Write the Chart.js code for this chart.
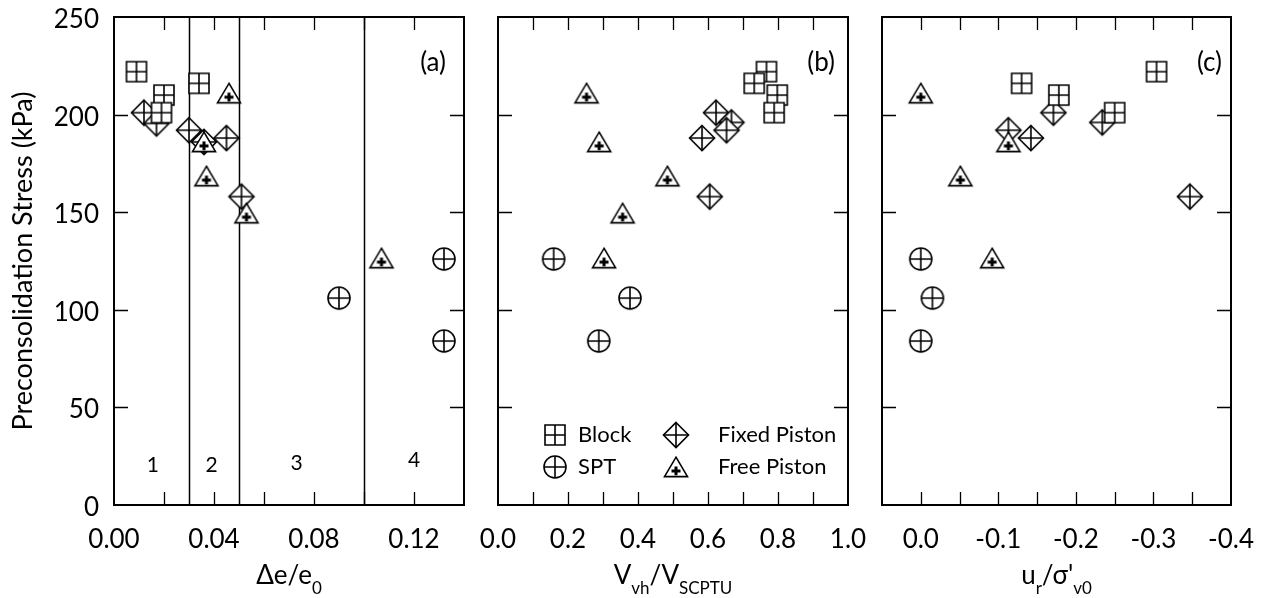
<!DOCTYPE html>
<html>
<head>
<meta charset="utf-8">
<script src="https://cdn.jsdelivr.net/npm/chart.js@4.4.0/dist/chart.umd.min.js"></script>
<style>
body { margin: 0; background: #fff; }
#wrap { position: relative; width: 1266px; height: 598px; }
#wrap canvas { position: absolute; left: 0; top: 0; }
</style>
</head>
<body>
<div id="wrap">
<canvas id="chartA" width="1266" height="598"></canvas>
<canvas id="chartB" width="1266" height="598"></canvas>
<canvas id="chartC" width="1266" height="598"></canvas>
</div>
<script>
var FONT = 'Lato, "Noto Sans", sans-serif';

// preconsolidation stress (kPa) and the three x quantities, per sampler
var blockStress = [222, 216, 210, 201];
var blockDe = [0.009, 0.034, 0.020, 0.019];
var blockVvh = [0.767, 0.732, 0.798, 0.789];
var blockUr = [-0.304, -0.130, -0.178, -0.250];

var sptStress = [126, 106, 84];
var sptDe = [0.132, 0.090, 0.132];
var sptVvh = [0.159, 0.377, 0.288];
var sptUr = [0.0, -0.015, 0.0];

var fixedStress = [201, 195.5, 192, 186, 188, 158];
var fixedDe = [0.012, 0.017, 0.030, 0.036, 0.045, 0.051];
var fixedStressBC = [201, 196, 192, 188, 158];
var fixedVvh = [0.623, 0.667, 0.653, 0.583, 0.605];
var fixedUr = [-0.171, -0.234, -0.113, -0.142, -0.347];

var freeStress = [211, 186, 168.5, 149.5, 126.5];
var freeDe = [0.046, 0.036, 0.037, 0.053, 0.107];
var freeVvh = [0.253, 0.289, 0.484, 0.356, 0.303];
var freeStressC = [211, 186, 168.5, 126.5];
var freeUr = [0.0, -0.113, -0.051, -0.092];

// disturbance zones on the de/e0 axis
var zoneBounds = [0.03, 0.05, 0.10];
var zoneNames = ['1', '2', '3', '4'];

// tick labels and tick marks
var stressTicks = [0, 50, 100, 150, 200, 250];
var stressMarks = [50, 100, 150, 200];
var deTicks = [0, 0.04, 0.08, 0.12];
var deMarks = [0.02, 0.04, 0.06, 0.08, 0.10, 0.12];
var vvhTicks = [0, 0.2, 0.4, 0.6, 0.8, 1.0];
var vvhMarks = [0.1, 0.2, 0.3, 0.4, 0.5, 0.6, 0.7, 0.8, 0.9];
var urTicks = [0, -0.1, -0.2, -0.3, -0.4];
var urMarks = [0, -0.05, -0.1, -0.15, -0.2, -0.25, -0.3, -0.35];

var seriesNames = ['Block', 'SPT', 'Fixed Piston', 'Free Piston'];

function pts(xs, ys) {
  return xs.map(function(x, i) { return {x: x, y: ys[i]}; });
}

// marker glyphs: white filled shape with a cross inside
function marker(kind) {
  var c = document.createElement('canvas');
  c.width = 30; c.height = 30;
  var g = c.getContext('2d');
  g.translate(15, 15);
  g.lineWidth = 1.6;
  g.strokeStyle = '#000';
  g.fillStyle = '#fff';
  g.beginPath();
  if (kind == 'block') {
    g.rect(-10, -10, 20, 20);
    g.fill(); g.stroke();
    g.beginPath();
    g.moveTo(0, -10); g.lineTo(0, 10);
    g.moveTo(-10, 0); g.lineTo(10, 0);
    g.stroke();
  } else if (kind == 'spt') {
    g.arc(0, 0, 11, 0, Math.PI * 2);
    g.fill(); g.stroke();
    g.beginPath();
    g.moveTo(0, -11); g.lineTo(0, 11);
    g.moveTo(-11, 0); g.lineTo(11, 0);
    g.stroke();
  } else if (kind == 'fixed') {
    g.moveTo(0, -12.5); g.lineTo(12.5, 0); g.lineTo(0, 12.5); g.lineTo(-12.5, 0);
    g.closePath();
    g.fill(); g.stroke();
    g.beginPath();
    g.moveTo(0, -12.5); g.lineTo(0, 12.5);
    g.moveTo(-12.5, 0); g.lineTo(12.5, 0);
    g.stroke();
  } else {
    g.moveTo(0, -9.8); g.lineTo(11.5, 9.6); g.lineTo(-11.5, 9.6);
    g.closePath();
    g.fill(); g.stroke();
    g.beginPath();
    g.lineWidth = 3;
    g.moveTo(0, -0.5); g.lineTo(0, 8.3);
    g.moveTo(-4.5, 3.9); g.lineTo(4.5, 3.9);
    g.stroke();
  }
  return c;
}
var MARKS = [marker('block'), marker('spt'), marker('fixed'), marker('free')];
var DRAW_ORDER = [1, 3, 2, 0];

function dataset(i, data) {
  return {
    label: seriesNames[i],
    data: data,
    pointStyle: MARKS[i],
    pointRadius: 12,
    order: DRAW_ORDER[i]
  };
}

function drawTitle(ctx, parts, cx, y) {
  var big = '26px ' + FONT, small = '17px ' + FONT;
  var w = 0;
  parts.forEach(function(p) { ctx.font = p[1] ? small : big; w += ctx.measureText(p[0]).width; });
  var x = cx - w / 2;
  ctx.textAlign = 'left';
  ctx.textBaseline = 'alphabetic';
  parts.forEach(function(p) {
    ctx.font = p[1] ? small : big;
    ctx.fillText(p[0], x, p[1] ? y + 10 : y);
    x += ctx.measureText(p[0]).width;
  });
}

var framePlugin = {
  id: 'frame',
  beforeDatasetsDraw: function(chart, args, opts) {
    var a = chart.chartArea, ctx = chart.ctx, xs = chart.scales.x;
    if (!opts.zones) return;
    ctx.save();
    ctx.strokeStyle = '#000';
    ctx.lineWidth = 1.5;
    zoneBounds.forEach(function(v) {
      var px = Math.round(xs.getPixelForValue(v)) + 0.5;
      ctx.beginPath(); ctx.moveTo(px, a.top); ctx.lineTo(px, a.bottom); ctx.stroke();
    });
    ctx.font = '21px ' + FONT;
    ctx.fillStyle = '#000';
    ctx.textAlign = 'center';
    ctx.textBaseline = 'middle';
    var zx = [0.0155, 0.039, 0.073, 0.120], zy = [465, 465, 463, 460];
    zoneNames.forEach(function(n, i) { ctx.fillText(n, xs.getPixelForValue(zx[i]), zy[i]); });
    ctx.restore();
  },
  afterDraw: function(chart, args, opts) {
    var a = chart.chartArea, ctx = chart.ctx, xs = chart.scales.x, ys = chart.scales.y;
    ctx.save();
    ctx.strokeStyle = '#000';
    ctx.fillStyle = '#000';
    ctx.lineWidth = 1.3;
    ctx.beginPath();
    opts.xMarks.forEach(function(v) {
      var px = Math.round(xs.getPixelForValue(v)) + 0.5;
      ctx.moveTo(px, a.bottom); ctx.lineTo(px, a.bottom - 13);
      ctx.moveTo(px, a.top); ctx.lineTo(px, a.top + 13);
    });
    stressMarks.forEach(function(v) {
      var py = Math.round(ys.getPixelForValue(v)) + 0.5;
      ctx.moveTo(a.left, py); ctx.lineTo(a.left + 14, py);
      ctx.moveTo(a.right, py); ctx.lineTo(a.right - 14, py);
    });
    ctx.stroke();
    ctx.lineWidth = 2;
    ctx.strokeRect(a.left, a.top, a.right - a.left, a.bottom - a.top);

    // x tick labels
    ctx.font = '26px ' + FONT;
    ctx.textAlign = 'center';
    ctx.textBaseline = 'alphabetic';
    opts.xTicks.forEach(function(v) {
      ctx.fillText(v.toFixed(opts.digits), xs.getPixelForValue(v), a.bottom + 43);
    });

    // y tick labels and title, first panel only
    if (opts.showY) {
      ctx.textAlign = 'right';
      stressTicks.forEach(function(v) {
        ctx.fillText(String(v), a.left - 15, ys.getPixelForValue(v) + 11);
      });
      ctx.save();
      ctx.translate(23, (a.top + a.bottom) / 2);
      ctx.rotate(-Math.PI / 2);
      ctx.textAlign = 'center';
      ctx.textBaseline = 'middle';
      ctx.font = '27px ' + FONT;
      ctx.fillText('Preconsolidation Stress (kPa)', 0, 0);
      ctx.restore();
    }

    ctx.font = '26px ' + FONT;
    ctx.textAlign = 'right';
    ctx.textBaseline = 'middle';
    ctx.fillText(opts.tag, a.right - opts.tagRight, 63);

    drawTitle(ctx, opts.title, (a.left + a.right) / 2, 584);

    if (opts.legend) {
      ctx.font = '22px ' + FONT;
      ctx.textAlign = 'left';
      ctx.textBaseline = 'middle';
      var cols = [a.left + 57, a.left + 178], rows = [a.bottom - 70, a.bottom - 38];
      [[0, 0, 0], [1, 0, 1], [2, 1, 0], [3, 1, 1]].forEach(function(e) {
        var m = MARKS[e[0]], mx = cols[e[1]], my = rows[e[2]];
        ctx.drawImage(m, mx - m.width / 2, my - m.height / 2);
        ctx.fillText(seriesNames[e[0]], mx + 23 + (e[1] ? 19 : 0), my);
      });
    }
    ctx.restore();
  }
};

function makeChart(id, datasets, xr, pad, frame) {
  return new Chart(document.getElementById(id), {
    type: 'scatter',
    data: {datasets: datasets},
    plugins: [framePlugin],
    options: {
      responsive: false, animation: false, devicePixelRatio: 1, events: [],
      layout: {padding: pad},
      scales: {
        x: {type: 'linear', min: xr[0], max: xr[1], reverse: !!xr[2], display: false},
        y: {type: 'linear', min: 0, max: 250, display: false}
      },
      plugins: {legend: {display: false}, tooltip: {enabled: false}, frame: frame}
    }
  });
}

makeChart('chartA', [
  dataset(0, pts(blockDe, blockStress)),
  dataset(1, pts(sptDe, sptStress)),
  dataset(2, pts(fixedDe, fixedStress)),
  dataset(3, pts(freeDe, freeStress))
], [0, 0.14], {left: 114, right: 802, top: 17, bottom: 93},
  {xTicks: deTicks, xMarks: deMarks, digits: 2, showY: true, tag: '(a)', tagRight: 18, zones: true,
   title: [['\u0394e/e', 0], ['0', 1]]});

makeChart('chartB', [
  dataset(0, pts(blockVvh, blockStress)),
  dataset(1, pts(sptVvh, sptStress)),
  dataset(2, pts(fixedVvh, fixedStressBC)),
  dataset(3, pts(freeVvh, freeStress))
], [0, 1.0], {left: 498, right: 418, top: 17, bottom: 93},
  {xTicks: vvhTicks, xMarks: vvhMarks, digits: 1, tag: '(b)', tagRight: 13, legend: true,
   title: [['V', 0], ['vh', 1], ['/V', 0], ['SCPTU', 1]]});

makeChart('chartC', [
  dataset(0, pts(blockUr, blockStress)),
  dataset(1, pts(sptUr, sptStress)),
  dataset(2, pts(fixedUr, fixedStressBC)),
  dataset(3, pts(freeUr, freeStressC))
], [-0.4, 0.05, true], {left: 882, right: 35, top: 17, bottom: 93},
  {xTicks: urTicks, xMarks: urMarks, digits: 1, tag: '(c)', tagRight: 9,
   title: [['u', 0], ['r', 1], ["/\u03c3'", 0], ['v0', 1]]});
</script>
</body>
</html>
